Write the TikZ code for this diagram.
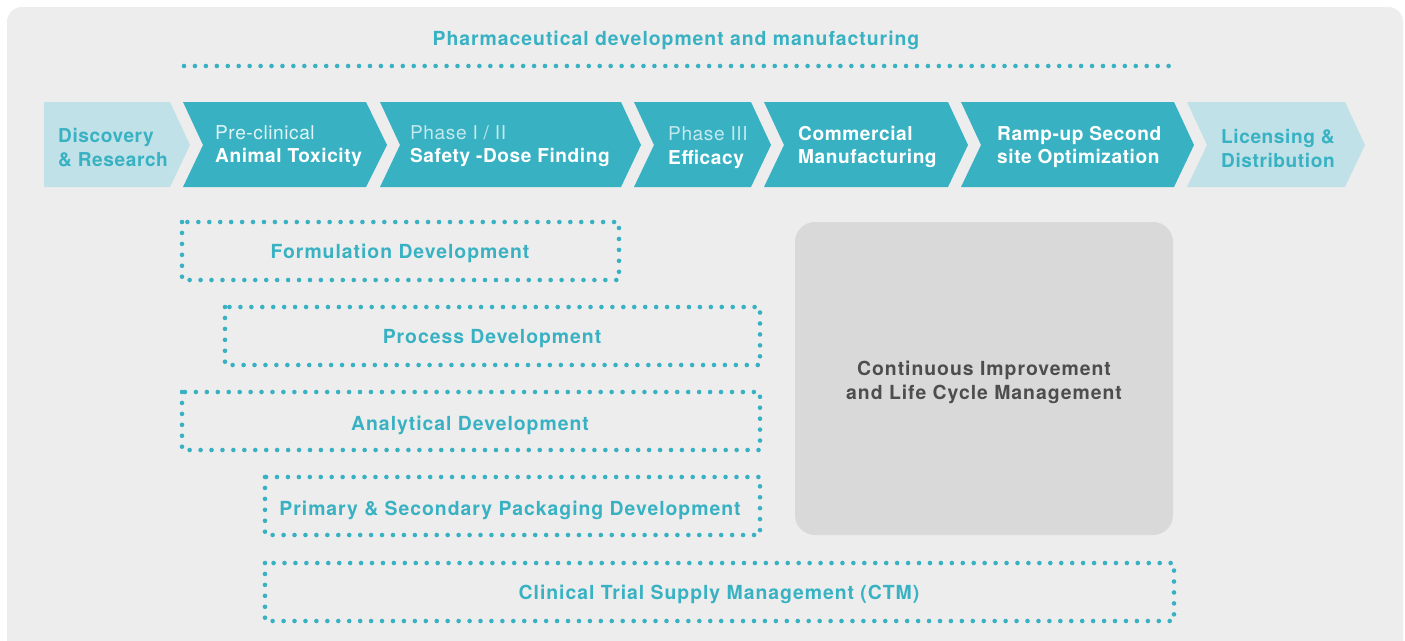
\documentclass[tikz,border=0pt]{standalone}
\usepackage{fontspec}
\setmainfont{TeX Gyre Heros}
\newfontfamily\spaced[LetterSpace=5]{TeX Gyre Heros}
\newfontfamily\chev[LetterSpace=3]{TeX Gyre Heros}
\definecolor{teal}{HTML}{38B2C3}
\definecolor{lteal}{HTML}{BFE1E7}
\definecolor{bgc}{HTML}{EDEDED}
\definecolor{boxg}{HTML}{D9D9D9}
\definecolor{dtext}{HTML}{4D4D4D}
\begin{document}
\begin{tikzpicture}[x=1pt,y=-1pt,
  dotline/.style={draw=teal,line width=4.6pt,line cap=round,dash pattern=on 0pt off 10.94pt},
  lbl/.style={font=\spaced\bfseries\fontsize{19.4}{24}\selectfont,text=teal,inner sep=0pt},
  chtext/.style={font=\chev\fontsize{19.1}{23.5}\selectfont,align=left,anchor=west,inner sep=0pt},
  darkchev/.style={fill=teal},
  lightchev/.style={fill=lteal}]
\useasboundingbox (0,0) rectangle (1405,640);
\fill[white] (0,0) rectangle (1405,640);
\fill[bgc,rounded corners=15pt] (7,7) rectangle (1403,680);
% title
\node[lbl] (title) at (676,40) {Pharmaceutical development and manufacturing};
\coordinate (tl) at (184,66);
\coordinate (tr) at (1171,66);
\draw[dotline] (tl) -- (tr);
% chevrons
\fill[lightchev] (44,102) -- (170,102) -- (190,145) -- (170,187) -- (44,187) -- cycle;
\fill[darkchev] (183,102) -- (366,102) -- (387,145) -- (366,187) -- (183,187) -- (203,145) -- cycle;
\fill[darkchev] (380,102) -- (621,102) -- (641,145) -- (621,187) -- (380,187) -- (400,145) -- cycle;
\fill[darkchev] (634,102) -- (751,102) -- (771,145) -- (751,187) -- (634,187) -- (654,145) -- cycle;
\fill[darkchev] (764,102) -- (948,102) -- (968,145) -- (948,187) -- (764,187) -- (784,145) -- cycle;
\fill[darkchev] (961,102) -- (1174,102) -- (1194,145) -- (1174,187) -- (961,187) -- (981,145) -- cycle;
\fill[lightchev] (1187,102) -- (1345,102) -- (1365,145) -- (1345,187) -- (1187,187) -- (1207,145) -- cycle;
\node[chtext,text=teal] (c1) at (58,147.5) {\bfseries Discovery\\\bfseries \& Research};
\node[chtext,text=white] (c2) at (215,146) {{\color{white!85!teal}Pre-clinical}\\\bfseries Animal Toxicity};
\node[chtext,text=white] (c3) at (410,146) {{\color{white!70!teal}Phase I / II}\\\bfseries Safety -Dose Finding};
\node[chtext,text=white] (c4) at (668,147.5) {{\color{white!70!teal}Phase III}\\\bfseries Efficacy};
\node[chtext,text=white] (c5) at (798,147) {\bfseries Commercial\\\bfseries Manufacturing};
\node[chtext,text=white] (c6) at (997,147) {\bfseries Ramp-up Second\\\bfseries site Optimization};
\node[chtext,text=teal] (c7) at (1221,148.5) {\bfseries Licensing \&\\\bfseries Distribution};
% dotted boxes
\draw[dotline] (182,222) rectangle (619,280);
\node[lbl] (f) at (400,253) {Formulation Development};
\draw[dotline] (225,307) rectangle (760,365);
\node[lbl] (p) at (492,339) {Process Development};
\draw[dotline] (182,392) rectangle (760,450);
\node[lbl] (a) at (470,425) {Analytical Development};
\draw[dotline] (265,477) rectangle (760,535);
\node[lbl] (s) at (510,510) {Primary \& Secondary Packaging Development};
\draw[dotline] (265,563) rectangle (1174,621);
\node[lbl] (ctm) at (719,594) {Clinical Trial Supply Management (CTM)};
% gray box
\fill[boxg,rounded corners=20pt] (795,222) rectangle (1173,535);
\node[lbl,text=dtext,align=center] (ci) at (984,382) {Continuous Improvement\\and Life Cycle Management};
\end{tikzpicture}
\end{document}
